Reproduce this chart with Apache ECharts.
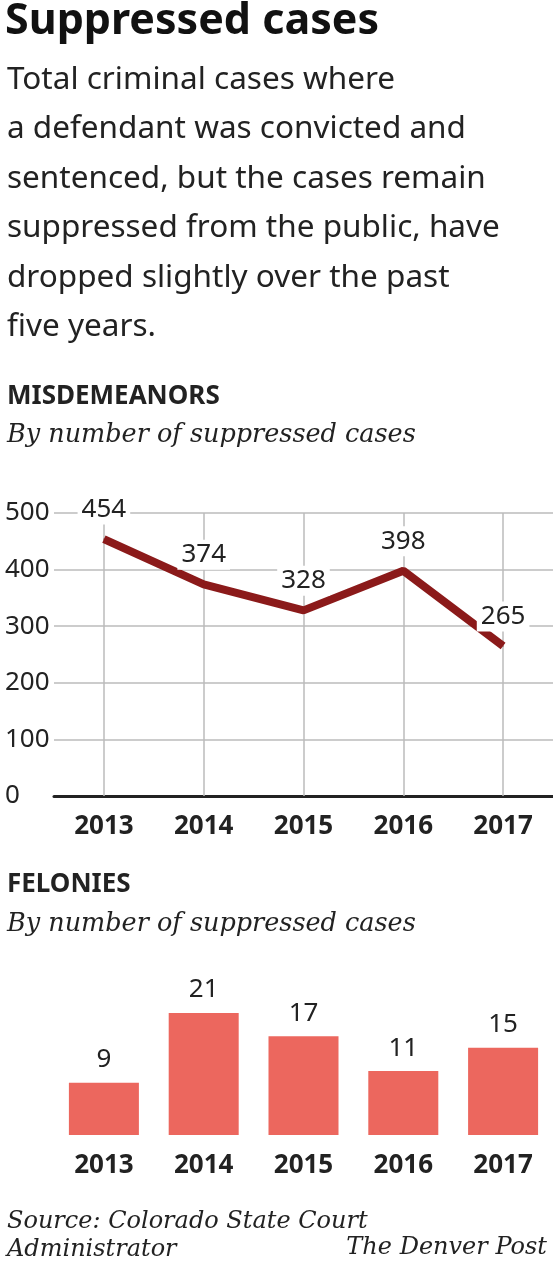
<!DOCTYPE html><html><head><meta charset="utf-8"><script src="https://cdn.jsdelivr.net/npm/echarts@6/dist/echarts.min.js"></script>
<style>body{margin:0;background:#fff}#c{width:553px;height:1274px}</style></head><body><div id="c"></div><script>
const years=['2013','2014','2015','2016','2017'];
const misdemeanors=[454,374,328,398,265];
const felonies=[9,21,17,11,15];
const yTicks=[0,100,200,300,400,500];
const c=echarts.init(document.getElementById('c'));
const F='"Noto Sans", sans-serif', S='"DejaVu Serif", serif', dark='#222';
const subtitle=['Total criminal cases where','a defendant was convicted and','sentenced, but the cases remain','suppressed from the public, have','dropped slightly over the past','five years.'];
const g=[{type:'text',left:5,top:0,style:{text:'Suppressed cases',font:'bold 43px '+F,fill:'#111'}}];
subtitle.forEach((t,i)=>g.push({type:'text',left:7,top:64+i*49.5,style:{text:t,font:'31.5px '+F,fill:dark}}));
g.push({type:'text',left:7,top:384,style:{text:'MISDEMEANORS',font:'bold 26px '+F,fill:dark}});
g.push({type:'text',left:7,top:422,style:{text:'By number of suppressed cases',font:'italic 25.5px '+S,fill:dark}});
g.push({type:'text',left:7,top:872,style:{text:'FELONIES',font:'bold 26px '+F,fill:dark}});
g.push({type:'text',left:7,top:911,style:{text:'By number of suppressed cases',font:'italic 25.5px '+S,fill:dark}});
g.push({type:'text',left:7,top:1208,style:{text:'Source: Colorado State Court\nAdministrator',font:'italic 24px '+S,fill:dark,lineHeight:28}});
g.push({type:'text',right:6,top:1236,style:{text:'The Denver Post',font:'italic 24px '+S,fill:dark}});
c.setOption({animation:false,graphic:g,
grid:[{left:54,width:520,top:513,height:283},{left:54,width:520,top:1013,height:122}],
xAxis:[{type:'category',data:years,gridIndex:0,axisLine:{lineStyle:{color:'#222',width:3}},axisTick:{show:false},
 axisLabel:{fontFamily:F,fontWeight:'bold',fontSize:26,color:dark,margin:18}},
 {type:'category',data:years,gridIndex:1,axisLine:{show:false},axisTick:{show:false},
 axisLabel:{fontFamily:F,fontWeight:'bold',fontSize:26,color:dark,margin:18}}],
yAxis:[{type:'value',gridIndex:0,min:0,max:500,interval:100,axisLabel:{fontFamily:F,fontSize:26,color:dark,align:'left',margin:49,padding:[0,0,14,0]},
 splitLine:{lineStyle:{color:'#bbb',width:1.5}}},
 {type:'value',gridIndex:1,min:0,max:21,show:false,splitLine:{show:false}}],
series:[{type:'line',data:misdemeanors,xAxisIndex:0,yAxisIndex:0,symbol:'circle',symbolSize:1,itemStyle:{color:'#8b1a1a'},lineStyle:{color:'#8b1a1a',width:8},z:5,
 label:{show:true,position:'top',distance:14,fontFamily:F,fontSize:26,color:dark,backgroundColor:'#fff',padding:[2,4]},
 markLine:{silent:true,symbol:'none',label:{show:false},lineStyle:{color:'#bbb',type:'solid',width:1.5},data:years.map(y=>({xAxis:y}))}},
 {type:'bar',data:felonies,xAxisIndex:1,yAxisIndex:1,barWidth:70,itemStyle:{color:'#ec675e'},
 label:{show:true,position:'top',distance:10,fontFamily:F,fontSize:26,color:dark}}]});
</script></body></html>
